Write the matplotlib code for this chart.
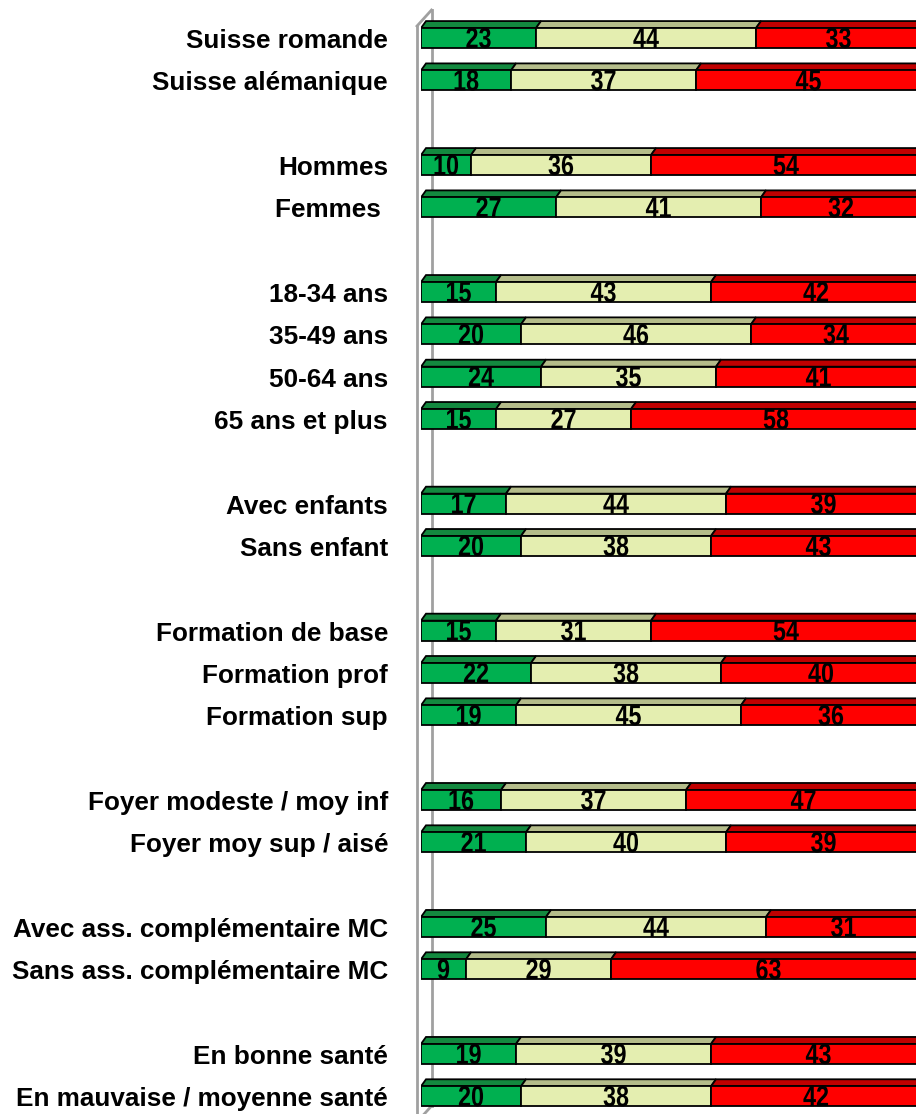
import matplotlib
matplotlib.use('Agg')
import matplotlib.pyplot as plt
from matplotlib.patches import Polygon
from matplotlib.patheffects import AbstractPathEffect
from matplotlib.transforms import Affine2D

# categories, None = blank row between groups
categories = ['Suisse romande', 'Suisse alémanique', None,
              'Hommes', 'Femmes ', None,
              '18-34 ans', '35-49 ans', '50-64 ans', '65 ans et plus', None,
              'Avec enfants', 'Sans enfant', None,
              'Formation de base', 'Formation prof', 'Formation sup', None,
              'Foyer modeste / moy inf', 'Foyer moy sup / aisé', None,
              'Avec ass. complémentaire MC', 'Sans ass. complémentaire MC', None,
              'En bonne santé', 'En mauvaise / moyenne santé']

vert = [23, 18, None, 10, 27, None, 15, 20, 24, 15, None, 17, 20, None,
        15, 22, 19, None, 16, 21, None, 25, 9, None, 19, 20]
jaune = [44, 37, None, 36, 41, None, 43, 46, 35, 27, None, 44, 38, None,
         31, 38, 45, None, 37, 40, None, 44, 29, None, 39, 38]
rouge = [33, 45, None, 54, 32, None, 42, 34, 41, 58, None, 39, 43, None,
         54, 40, 36, None, 47, 39, None, 31, 63, None, 43, 42]

front_colors = ['#00B050', '#E4EEB0', '#FF0000']
top_colors = ['#13893F', '#B4BC8A', '#C00000']


class Etroit(AbstractPathEffect):
    """Compresse le texte en largeur autour de son centre (effet 'Narrow')."""

    def __init__(self, cx, s=0.8):
        super().__init__()
        self.cx = cx
        self.s = s

    def draw_path(self, renderer, gc, tpath, affine, rgbFace=None):
        t = affine + Affine2D().translate(-self.cx, 0).scale(self.s, 1).translate(self.cx, 0)
        renderer.draw_path(gc, tpath, t, rgbFace)


W, H = 916, 1114
fig = plt.figure(figsize=(W / 100, H / 100), dpi=100)
# 0 -> 421 px, 100 -> 921 px (l'axe dépasse à droite)
ax = fig.add_axes([421 / W, 0, 500 / W, 1])
ax.set_xlim(0, 100)
ax.set_ylim(25.42, -0.898)
ax.axis('off')

h = 0.47      # hauteur de la face avant
dx = 1.0      # profondeur 3D en x
dy = 0.165    # profondeur 3D en y

# paroi du fond
wall = dict(color='#A0A0A0', lw=2, zorder=0, clip_on=False)
ax.plot([-0.8, -0.8], [-0.283, 25.6], **wall)
ax.plot([-0.8, 2.1], [-0.283, -0.661], **wall)
ax.plot([2.1, 2.1], [-0.661, 25.23], **wall)
ax.plot([2.1, -0.8], [25.23, 25.61], **wall)

for i, cat in enumerate(categories):
    if cat is None:
        continue
    vals = [vert[i], jaune[i], rouge[i]]
    left = 0
    for v, fc, tc in zip(vals, front_colors, top_colors):
        ax.barh(i, v, left=left, height=h, color=fc, edgecolor='black',
                linewidth=1.3, zorder=2)
        top = i - h / 2
        ax.add_patch(Polygon([(left, top), (left + v, top),
                              (left + v + dx, top - dy), (left + dx, top - dy)],
                             closed=True, facecolor=tc, edgecolor='black',
                             linewidth=1.3, zorder=1.9))
        xc = left + v / 2
        cx = ax.transData.transform((xc, i))[0]
        ax.text(xc, i + 0.235, str(v), ha='center', va='baseline',
                fontsize=21, fontweight='bold', family='Liberation Sans',
                zorder=3, path_effects=[Etroit(cx, 0.8)])
        left += v
    ax.text(-6.6, i + 0.07, cat, ha='right', va='center', fontsize=18.8,
            fontweight='bold', family='Liberation Sans', clip_on=False)

fig.savefig('out.png', dpi=100)
